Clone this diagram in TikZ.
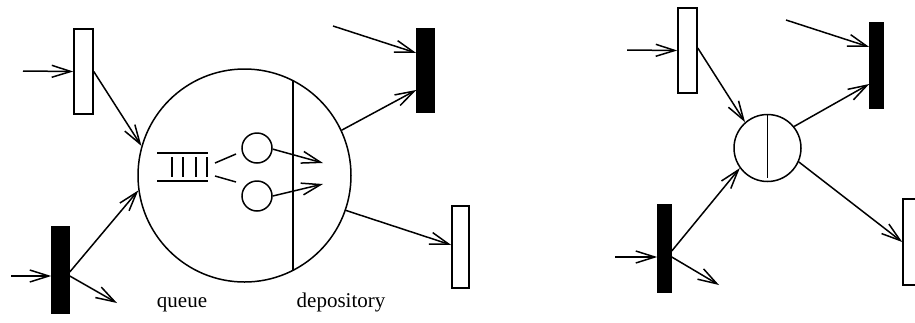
\documentclass[tikz,border=0pt]{standalone}
\usepackage{fontspec}
\setmainfont{Liberation Serif}
\usetikzlibrary{arrows.meta,calc}
\begin{document}
\begin{tikzpicture}[x=1pt,y=-1pt,line width=1.5pt,
  openbox/.style={draw,fill=white,inner sep=0pt,minimum width=#1},
  fullbox/.style={draw,fill=black,inner sep=0pt,minimum width=#1},
  place/.style={draw,circle,inner sep=0pt,minimum size=#1},
  arc/.style={-{Straight Barb[length=19pt,width=12pt,line width=1.5pt]}},
  lbl/.style={font=\fontsize{21}{24}\selectfont,inner sep=0pt}]
\useasboundingbox (0,0) rectangle (915,322);
% ---------- left diagram ----------
\node[openbox=19pt,minimum height=85pt] (lr) at (83.5,71.5) {};
\node[fullbox=17pt,minimum height=86pt] (bl) at (60.5,270) {};
\node[fullbox=17pt,minimum height=83pt] (tr) at (425.5,70.5) {};
\node[openbox=17pt,minimum height=82pt] (rr) at (460.5,247) {};
\node[place=213pt] (c) at (244.5,175.5) {};
\node[place=30pt] (s1) at (257,148) {};
\node[place=30pt] (s2) at (257,196) {};
\draw (c.63) -- (c.-63);
% queue
\draw (157,153) -- (208,153) (157,181) -- (208,181);
\foreach \x in {172,183,196,207} \draw (\x,157) -- (\x,177);
\draw (215,163) -- (236,154) (215,176) -- (236,182);
\coordinate (in1) at (23,71);
\coordinate (in2) at (11,276);
\coordinate (out1) at (117,303);
\coordinate (in3) at (333,26);
\coordinate (d1) at (323,163);
\coordinate (d2) at (323,184);
\draw[arc] (in1) -- (lr.west);
\draw[arc] (lr.east) -- (c.164);
\draw[arc] (in2) -- ([yshift=-6pt]bl.west);
\draw[arc] ([yshift=-2pt]bl.east) -- (c.188);
\draw[arc] ([yshift=-6pt]bl.east) -- (out1);
\draw[arc] (in3) -- ([yshift=17.5pt]tr.west);
\draw[arc] (c.25) -- ([yshift=-19.5pt]tr.west);
\draw[arc] (c.-19) -- ([yshift=2pt]rr.west);
\draw[arc] (s1.-4) -- (d1);
\draw[arc] (s2.0) -- (d2);
\node[lbl] (q) at (182,305) {queue};
\node[lbl] (dep) at (341,302) {depository};
% ---------- right diagram ----------
\node[openbox=19pt,minimum height=85pt] (lr2) at (687.5,50.5) {};
\node[fullbox=13pt,minimum height=87pt] (bl2) at (664.5,248.5) {};
\node[fullbox=13pt,minimum height=85pt] (tr2) at (876.5,65.5) {};
\node[openbox=19pt,minimum height=86pt] (rr2) at (912.5,242) {};
\node[place=67pt] (c2) at (767.5,148) {};
\draw (c2.90) -- ([yshift=4pt]c2.-90);
\coordinate (jin1) at (627,50);
\coordinate (jin2) at (615,257);
\coordinate (jout1) at (719,285);
\coordinate (jin3) at (786,20);
\draw[arc] (jin1) -- (lr2.west);
\draw[arc] ([yshift=2.5pt]lr2.east) -- (c2.131);
\draw[arc] (jin3) -- ([yshift=18.5pt]tr2.west);
\draw[arc] (c2.39) -- ([yshift=-18.5pt]tr2.west);
\draw[arc] (c2.-24) -- (rr2.west);
\draw[arc] (jin2) -- ([yshift=-8.5pt]bl2.west);
\draw[arc] ([yshift=-2.5pt]bl2.east) -- (c2.216);
\draw[arc] ([yshift=-8.5pt]bl2.east) -- (jout1);
\end{tikzpicture}
\end{document}
